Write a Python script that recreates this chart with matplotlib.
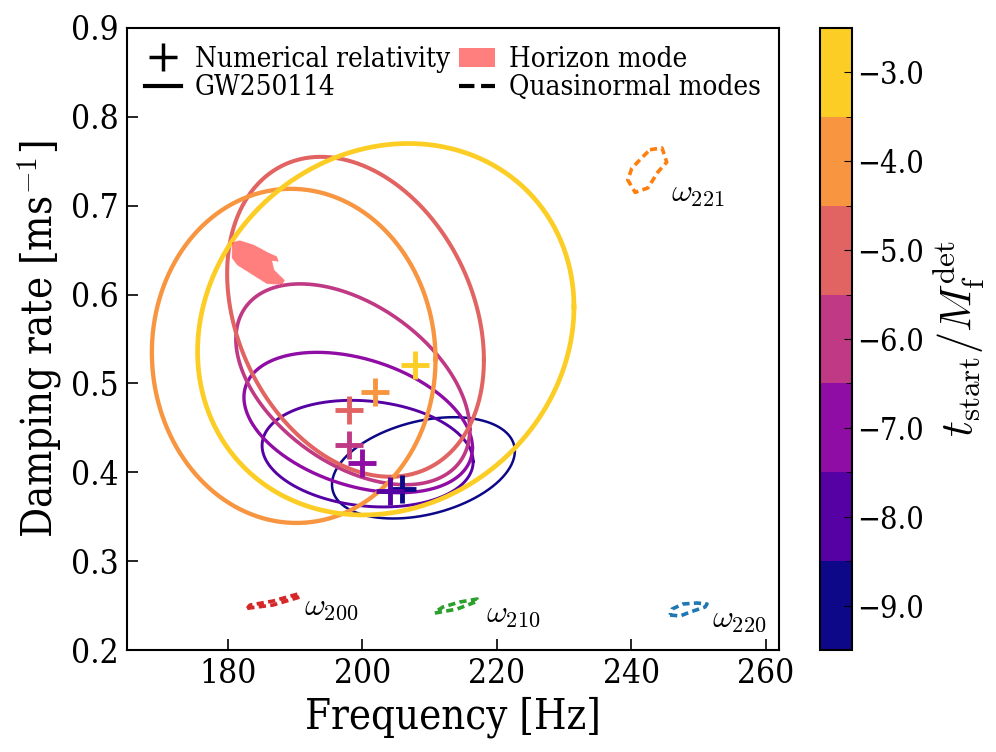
import numpy as np
import matplotlib
matplotlib.use("Agg")
from matplotlib import pyplot as plt
from matplotlib.colors import ListedColormap, BoundaryNorm
from matplotlib.patches import Patch
from matplotlib.lines import Line2D
from matplotlib.ticker import FuncFormatter
import matplotlib.cm as cm

plt.rcParams['font.family'] = 'DejaVu Serif'
plt.rcParams['font.stretch'] = 'condensed'
plt.rcParams['mathtext.fontset'] = 'cm'

# start times (t_start / M_f^det)
t_start = [-9, -8, -7, -6, -5, -4, -3]

# GW250114 90% regions: centre, half-extent and correlation
cen_f = [209.1, 200.8, 199.4, 198.6, 199.0, 189.8, 203.5]
cen_g = [0.405, 0.421, 0.456, 0.499, 0.575, 0.531, 0.561]
half_f = [13.6, 15.7, 17.0, 17.4, 19.1, 21.1, 28.0]
half_g = [0.057, 0.060, 0.079, 0.113, 0.180, 0.188, 0.209]
rho = [0.33, -0.15, -0.36, -0.45, -0.27, -0.02, 0.12]
lws = [1.8, 2.1, 2.4, 2.6, 2.9, 3.1, 3.4]

# numerical relativity predictions
nr_f = [205.9, 204.1, 200.0, 198.0, 198.0, 201.9, 207.8]
nr_g = [0.381, 0.379, 0.410, 0.431, 0.470, 0.490, 0.521]

# horizon mode region
hor_f = [180.6, 181.8, 183.9, 186.1, 187.3, 187.6, 186.6, 186.9, 188.5, 188.1,
         185.8, 183.9, 181.4, 180.6]
hor_g = [0.659, 0.661, 0.656, 0.647, 0.643, 0.637, 0.638, 0.628, 0.616, 0.611,
         0.612, 0.621, 0.633, 0.641]

# quasinormal mode regions
qnm_names = [r'$\omega_{221}$', r'$\omega_{200}$', r'$\omega_{210}$', r'$\omega_{220}$']
qnm_colors = ['tab:orange', 'tab:red', 'tab:green', 'tab:blue']
qnm_f = [
    [242.8, 244.6, 245.3, 244.0, 242.5, 240.6, 239.5, 240.1, 241.6],
    [182.9, 186.7, 190.7, 190.4, 186.7, 183.3],
    [210.8, 214.1, 217.2, 217.1, 214.5, 212.0, 211.1],
    [245.8, 247.3, 248.8, 251.0, 251.3, 249.8, 247.7, 246.1],
]
qnm_g = [
    [0.763, 0.765, 0.749, 0.738, 0.720, 0.715, 0.729, 0.742, 0.754],
    [0.247, 0.2506, 0.2596, 0.263, 0.2551, 0.2506],
    [0.2416, 0.2461, 0.2551, 0.2574, 0.254, 0.2484, 0.2439],
    [0.2394, 0.2383, 0.2428, 0.2484, 0.2518, 0.2529, 0.2518, 0.2461],
]
label_f = [246.0, 191.3, 218.4, 252.0]
label_g = [0.714, 0.249, 0.241, 0.236]

colors = plt.get_cmap('plasma')(np.linspace(0, 0.9, len(t_start)))
cmap = ListedColormap(colors)
bounds = np.arange(-9.5, -2.4, 1.0)
norm = BoundaryNorm(bounds, cmap.N)

fig = plt.figure(figsize=(9.96, 7.52), dpi=100)
ax = fig.add_axes([0.1275, 0.1356, 0.6546, 0.8272])
cax = fig.add_axes([0.8233, 0.1356, 0.0321, 0.8272])

tt = np.linspace(0, 2 * np.pi, 300)
for i in range(len(t_start)):
    c = cmap(norm(t_start[i]))
    ff = cen_f[i] + half_f[i] * np.cos(tt)
    gg = cen_g[i] + half_g[i] * (rho[i] * np.cos(tt) + np.sqrt(1 - rho[i] ** 2) * np.sin(tt))
    ax.plot(ff, gg, c=c, lw=lws[i], zorder=2)

ax.fill(hor_f, hor_g, color='red', alpha=0.5, lw=0, zorder=3)
ax.plot(hor_f + hor_f[:1], hor_g + hor_g[:1], color='white', alpha=0.5, lw=0.7,
        ls=':', zorder=3)

for i in range(len(t_start)):
    ax.plot(nr_f[i], nr_g[i], marker='+', ms=20, mew=3.5, ls='none',
            c=cmap(norm(t_start[i])), zorder=4)

for i in range(len(qnm_names)):
    ax.plot(qnm_f[i] + qnm_f[i][:1], qnm_g[i] + qnm_g[i][:1], ls='--', lw=2.6,
            dashes=(2.0, 1.2), c=qnm_colors[i])
    ax.text(label_f[i], label_g[i], qnm_names[i], fontsize=23, va='center')

ax.set_xlim(165, 262)
ax.set_ylim(0.2, 0.9)
ax.set_xticks([180, 200, 220, 240, 260])
ax.set_yticks(np.arange(0.2, 0.91, 0.1))
ax.yaxis.set_major_formatter(FuncFormatter(lambda v, p: '%.1f' % v))
ax.tick_params(direction='in', length=8, width=1.2, labelsize=24, pad=6)
for s in ax.spines.values():
    s.set_linewidth(1.5)
ax.set_xlabel('Frequency [Hz]', fontsize=30)
ax.set_ylabel(r'Damping rate [ms$^{-1}$]', fontsize=30)

handles = [
    Line2D([], [], marker='+', ms=20, mew=2.5, ls='none', c='k'),
    Line2D([], [], c='k', lw=3),
    Patch(facecolor='red', alpha=0.5, edgecolor='none'),
    Line2D([], [], c='k', lw=3, ls='--'),
]
labels = ['Numerical relativity', 'GW250114', 'Horizon mode', 'Quasinormal modes']
ax.legend(handles, labels, loc='upper left', ncol=2, frameon=False, fontsize=20,
          handlelength=1.3, handletextpad=0.5, columnspacing=0.3,
          labelspacing=0.05, borderaxespad=0.25)

sm = cm.ScalarMappable(norm=norm, cmap=cmap)
cb = fig.colorbar(sm, cax=cax, ticks=t_start,
                  format=FuncFormatter(lambda v, p: ('%.1f' % v).replace('-', '\u2212')))
cb.ax.tick_params(direction='in', length=6, labelsize=22)
cb.ax.set_yticks(bounds, minor=True)
cb.ax.tick_params(which='minor', direction='in', length=4)
cb.outline.set_linewidth(1.5)
cb.set_label(r'$t_{\rm start}/M_{\rm f}^{\rm det}$', fontsize=32, labelpad=6)

fig.savefig('out.png', dpi=100)
